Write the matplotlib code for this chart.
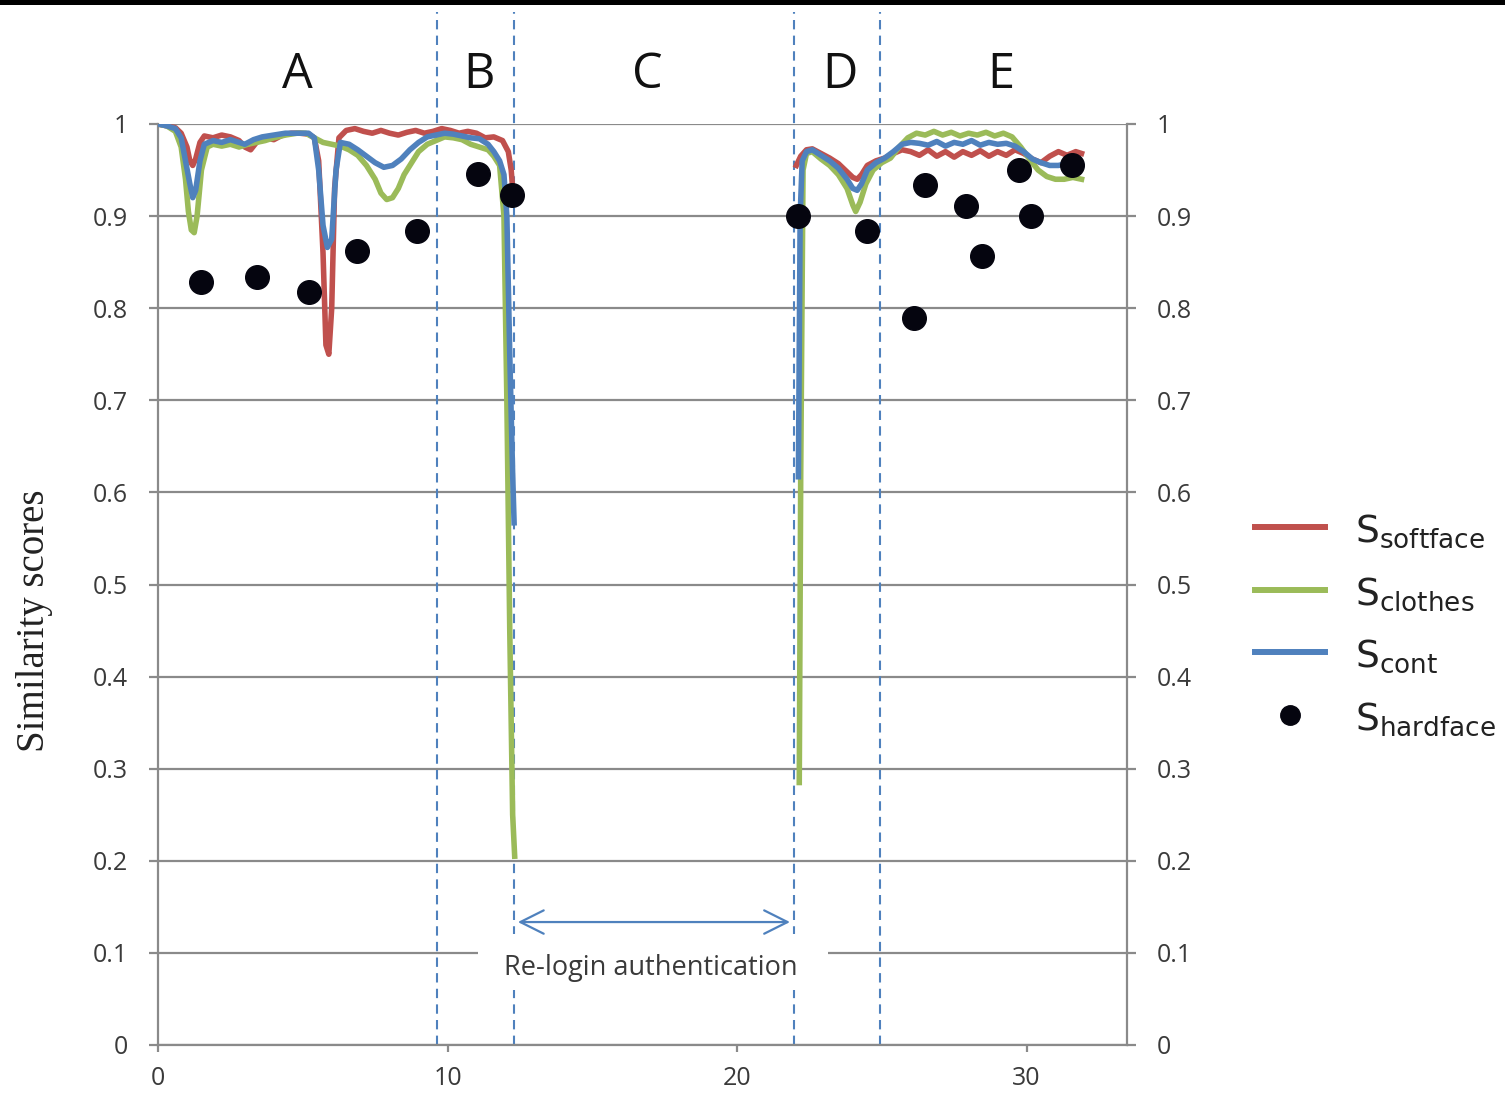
import numpy as np
import matplotlib.pyplot as plt
from matplotlib.lines import Line2D
from matplotlib.patches import Rectangle

# ---- data ----
# segment 1 (before re-login) and segment 2 (after re-login) of each score
soft_x1 = [0, 0.3, 0.6, 0.8, 1.0, 1.1, 1.2, 1.3, 1.45, 1.6, 1.9, 2.2, 2.5, 2.8, 3.0, 3.2,
           3.4, 3.7, 4.0, 4.3, 4.6, 4.9, 5.2, 5.4, 5.55, 5.7, 5.8, 5.9, 6.0, 6.1, 6.25, 6.5,
           6.8, 7.1, 7.4, 7.7, 8.0, 8.3, 8.6, 8.9, 9.2, 9.5, 9.8, 10.1, 10.4, 10.7, 11.0,
           11.3, 11.6, 11.9, 12.1, 12.2, 12.25]
soft_y1 = [1.0, 0.998, 0.996, 0.99, 0.975, 0.96, 0.955, 0.962, 0.98, 0.987, 0.985, 0.988,
           0.986, 0.982, 0.975, 0.972, 0.98, 0.985, 0.983, 0.988, 0.99, 0.99, 0.989, 0.985,
           0.96, 0.86, 0.76, 0.75, 0.80, 0.93, 0.985, 0.993, 0.995, 0.992, 0.99, 0.993, 0.99,
           0.988, 0.991, 0.993, 0.99, 0.992, 0.995, 0.993, 0.99, 0.992, 0.99, 0.985, 0.986,
           0.982, 0.97, 0.95, 0.93]
soft_x2 = [22.05, 22.2, 22.4, 22.6, 22.9, 23.2, 23.5, 23.8, 24.0, 24.15, 24.3, 24.5, 24.8,
           25.1, 25.4, 25.7, 26.0, 26.3, 26.6, 26.9, 27.2, 27.5, 27.8, 28.1, 28.4, 28.7, 29.0,
           29.3, 29.6, 29.9, 30.2, 30.5, 30.8, 31.1, 31.4, 31.7, 31.9]
soft_y2 = [0.955, 0.965, 0.972, 0.973, 0.968, 0.963, 0.957, 0.948, 0.942, 0.94, 0.945, 0.955,
           0.96, 0.963, 0.968, 0.972, 0.97, 0.966, 0.972, 0.965, 0.97, 0.964, 0.97, 0.966,
           0.971, 0.965, 0.97, 0.966, 0.972, 0.968, 0.962, 0.958, 0.965, 0.97, 0.966, 0.97,
           0.968]

clothes_x1 = [0, 0.3, 0.6, 0.8, 0.95, 1.05, 1.15, 1.25, 1.35, 1.5, 1.7, 1.9, 2.2, 2.5, 2.8,
              3.1, 3.4, 3.7, 4.0, 4.4, 4.8, 5.1, 5.4, 5.7, 6.0, 6.3, 6.6, 6.9, 7.2, 7.5, 7.7,
              7.9, 8.1, 8.3, 8.5, 8.7, 9.0, 9.3, 9.6, 9.9, 10.2, 10.5, 10.8, 11.1, 11.4, 11.6,
              11.8, 11.95, 12.05, 12.15, 12.25, 12.32]
clothes_y1 = [1.0, 0.998, 0.992, 0.975, 0.94, 0.905, 0.885, 0.882, 0.9, 0.95, 0.975, 0.978,
              0.976, 0.978, 0.975, 0.978, 0.98, 0.982, 0.985, 0.988, 0.99, 0.99, 0.985, 0.98,
              0.978, 0.976, 0.972, 0.966, 0.955, 0.94, 0.925, 0.918, 0.92, 0.93, 0.945, 0.955,
              0.97, 0.978, 0.982, 0.986, 0.985, 0.983, 0.978, 0.975, 0.972, 0.965, 0.955, 0.9,
              0.7, 0.45, 0.25, 0.205]
clothes_x2 = [22.15, 22.2, 22.28, 22.4, 22.6, 22.9, 23.2, 23.5, 23.8, 24.0, 24.1, 24.25, 24.45,
              24.7, 25.0, 25.3, 25.6, 25.9, 26.2, 26.5, 26.8, 27.1, 27.4, 27.7, 28.0, 28.3,
              28.6, 28.9, 29.2, 29.5, 29.8, 30.1, 30.4, 30.7, 31.0, 31.3, 31.6, 31.9]
clothes_y2 = [0.285, 0.62, 0.95, 0.968, 0.97, 0.962, 0.955, 0.945, 0.93, 0.912, 0.905, 0.915,
              0.935, 0.95, 0.958, 0.963, 0.975, 0.985, 0.99, 0.988, 0.992, 0.988, 0.991, 0.987,
              0.99, 0.988, 0.991, 0.987, 0.99, 0.986, 0.975, 0.962, 0.95, 0.943, 0.94, 0.94,
              0.942, 0.94]

cont_x1 = [0, 0.3, 0.6, 0.8, 0.95, 1.1, 1.2, 1.3, 1.45, 1.6, 1.9, 2.2, 2.5, 2.8, 3.0, 3.3,
           3.6, 4.0, 4.4, 4.8, 5.2, 5.4, 5.55, 5.7, 5.85, 6.0, 6.15, 6.3, 6.6, 6.9, 7.2, 7.5,
           7.8, 8.1, 8.4, 8.7, 9.0, 9.3, 9.6, 9.9, 10.2, 10.5, 10.8, 11.1, 11.4, 11.6, 11.8,
           11.95, 12.05, 12.15, 12.25, 12.3]
cont_y1 = [1.0, 0.998, 0.995, 0.985, 0.96, 0.935, 0.92, 0.928, 0.96, 0.978, 0.982, 0.98,
           0.983, 0.98, 0.978, 0.983, 0.986, 0.988, 0.99, 0.99, 0.99, 0.985, 0.95, 0.89, 0.866,
           0.875, 0.95, 0.98, 0.978, 0.972, 0.965, 0.958, 0.953, 0.955, 0.962, 0.972, 0.98,
           0.986, 0.988, 0.99, 0.989, 0.987, 0.985, 0.984, 0.978, 0.97, 0.96, 0.945, 0.90,
           0.75, 0.62, 0.567]
cont_x2 = [22.12, 22.18, 22.25, 22.4, 22.6, 22.9, 23.2, 23.5, 23.8, 24.0, 24.15, 24.3, 24.5,
           24.8, 25.1, 25.4, 25.7, 26.0, 26.3, 26.6, 26.9, 27.2, 27.5, 27.8, 28.1, 28.4, 28.7,
           29.0, 29.3, 29.6, 29.9, 30.2, 30.5, 30.8, 31.1, 31.4, 31.7, 31.9]
cont_y2 = [0.617, 0.9, 0.96, 0.97, 0.972, 0.966, 0.96, 0.952, 0.94, 0.93, 0.928, 0.935, 0.95,
           0.958, 0.963, 0.97, 0.978, 0.98, 0.979, 0.977, 0.981, 0.976, 0.98, 0.978, 0.982,
           0.977, 0.98, 0.978, 0.979, 0.976, 0.97, 0.962, 0.958, 0.955, 0.955, 0.957, 0.955,
           0.955]

hard_x = [1.49, 3.42, 5.22, 6.87, 8.95, 11.05, 12.23, 22.1, 24.5, 26.1, 26.5, 27.9, 28.46,
          29.74, 30.15, 31.57]
hard_y = [0.828, 0.834, 0.818, 0.862, 0.884, 0.946, 0.923, 0.900, 0.884, 0.789, 0.934, 0.911,
          0.857, 0.950, 0.900, 0.955]

phase_bounds = [9.64, 12.3, 21.97, 24.94]
phase_labels = ['A', 'B', 'C', 'D', 'E']
phase_label_x = [4.8, 11.1, 16.9, 23.55, 29.1]

y_ticks = [0, 0.1, 0.2, 0.3, 0.4, 0.5, 0.6, 0.7, 0.8, 0.9, 1]
y_ticklabels = ['0', '0.1', '0.2', '0.3', '0.4', '0.5', '0.6', '0.7', '0.8', '0.9', '1']
x_ticks = [0, 10, 20, 30]

RED, GREEN, BLUE = '#c0504d', '#9bbb59', '#4f81bd'
GRID = '#8a8a8a'
TXT = '#3a3a3a'

plt.rcParams['mathtext.fontset'] = 'custom'
plt.rcParams['mathtext.rm'] = 'Open Sans'
plt.rcParams['mathtext.it'] = 'Open Sans'


def joined(xa, ya, xb, yb):
    # two segments separated by a gap
    return (np.r_[xa, np.nan, xb], np.r_[ya, np.nan, yb])


W, H = 1505, 1094
fig = plt.figure(figsize=(W / 100, H / 100), dpi=100)
ax = fig.add_axes([158 / W, 49 / H, (1127 - 158) / W, 921 / H])
ax.set_xlim(0, 33.47)
ax.set_ylim(0, 1)

# grid and frame
ax.set_yticks(y_ticks)
ax.set_yticklabels(y_ticklabels)
ax.set_xticks(x_ticks)
ax.yaxis.grid(True, color=GRID, lw=1.6)
ax.set_axisbelow(True)
ax.spines['top'].set_visible(False)
for s in ['left', 'right', 'bottom']:
    ax.spines[s].set_color(GRID)
    ax.spines[s].set_linewidth(1.6)
ax.tick_params(axis='y', left=True, right=True, labelleft=True, labelright=True,
               length=6.5, width=1.6, color=GRID, pad=15, labelsize=18, labelcolor=TXT)
ax.tick_params(axis='x', length=5, width=1.6, color=GRID, pad=10, labelsize=18,
               labelcolor=TXT)
for lab in ax.get_xticklabels() + ax.get_yticklabels():
    lab.set_family('Open Sans')
for t in ax.yaxis.get_major_ticks():
    t.label2.set_family('Open Sans')

# phase separators
for xb in phase_bounds:
    ax.plot([xb, xb], [0, 1.122], color=BLUE, lw=1.5, ls=(0, (4.5, 3)), clip_on=False,
            zorder=2)
for lx, lt in zip(phase_label_x, phase_labels):
    ax.text(lx, 1.039, lt, ha='center', va='baseline', fontsize=35, family='Open Sans',
            color='#111111', clip_on=False)

# score curves
xs, ys = joined(soft_x1, soft_y1, soft_x2, soft_y2)
ax.plot(xs, ys, color=RED, lw=4.0, zorder=5, solid_joinstyle='round')
xs, ys = joined(clothes_x1, clothes_y1, clothes_x2, clothes_y2)
ax.plot(xs, ys, color=GREEN, lw=4.0, zorder=5, solid_joinstyle='round')
xs, ys = joined(cont_x1, cont_y1, cont_x2, cont_y2)
ax.plot(xs, ys, color=BLUE, lw=4.0, zorder=6, solid_joinstyle='round')
ax.plot(hard_x, hard_y, 'o', color='#05050f', ms=17, zorder=7, clip_on=False)

# re-login annotation
ax.add_patch(Rectangle((11.05, 0.06), 23.14 - 11.05, 0.06, fc='white', ec='none', zorder=3))
ax.annotate('', xy=(21.83, 0.1335), xytext=(12.43, 0.1335),
            arrowprops=dict(arrowstyle='<->,head_length=1.2,head_width=0.6', color=BLUE,
                            lw=1.6, shrinkA=0, shrinkB=0, mutation_scale=14), zorder=4)
ax.text(17.03, 0.0836, 'Re-login authentication', ha='center', va='center', fontsize=19.5,
        family='Open Sans', color=TXT, zorder=4)

# y label
fig.text(35 / W, 1 - 621 / H, 'Similarity scores', rotation=90, ha='center', va='center',
         fontsize=28, family='Liberation Serif', color='#222222')

# legend drawn in figure pixels
leg_rows = [(527, RED, 'softface'), (590, GREEN, 'clothes'), (652, BLUE, 'cont'),
            (715, None, 'hardface')]
for py, col, name in leg_rows:
    fy = 1 - py / H
    if col is not None:
        fig.add_artist(Line2D([1255 / W, 1325 / W], [fy, fy], color=col, lw=4.3,
                              transform=fig.transFigure))
    else:
        fig.add_artist(Line2D([1290 / W], [fy], marker='o', ms=14, color='#05050f',
                              ls='none', transform=fig.transFigure))
    fig.text(1355 / W, 1 - (py + 15) / H, r'$\mathregular{S_{%s}}$' % name, fontsize=27,
             ha='left', va='baseline', color='#222222')

# black strip along the top edge
fig.add_artist(Rectangle((0, 1 - 5 / H), 1, 5 / H, transform=fig.transFigure,
                         fc='black', ec='none'))

fig.savefig('out.png', dpi=100)
